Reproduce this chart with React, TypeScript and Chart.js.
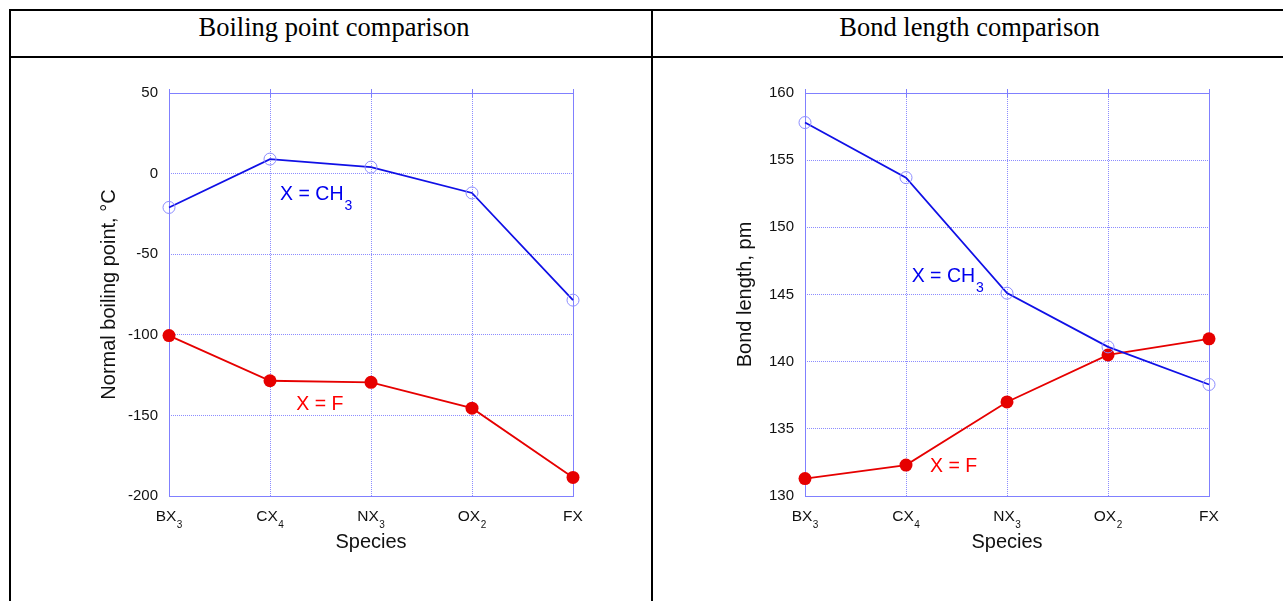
import React, { useEffect, useRef } from 'react';
import { Chart, registerables } from 'chart.js';

Chart.register(...registerables);

// ---------- data ----------
const speciesBase = ['BX', 'CX', 'NX', 'OX', 'FX'];
const speciesSub = ['3', '4', '3', '2', ''];

// Boiling points (°C)
const bpMethyl = [-21, 9, 4, -12, -78.5];
const bpFluoro = [-100.5, -128.5, -129.5, -145.5, -188.5];

// Bond lengths (pm)
const blMethyl = [157.8, 153.7, 145.1, 141.1, 138.3];
const blFluoro = [131.3, 132.3, 137.0, 140.5, 141.7];

// axis ranges
const bpRange = [-200, 50];
const bpStep = 50;
const blRange = [130, 160];
const blStep = 5;

// series labels
const methylLabel = ['X = CH', '3'];
const fluoroLabel = ['X = F', ''];

// label anchors (category index, value)
const bpMethylLabelAt = [1.1, -16.4];
const bpFluoroLabelAt = [1.26, -146.7];
const blMethylLabelAt = [1.056, 145.95];
const blFluoroLabelAt = [1.238, 131.8];

// ---------- styles ----------
const SANS = '"Liberation Sans", Arial, Helvetica, sans-serif';
const BLUE = '#1010e6';
const RED = '#e60000';
const BLUE_TEXT = '#0000ee';
const RED_TEXT = '#ff0000';
const FRAME = '#8080ff';
const GRID = '#8c8cff';

type Props = {
  left: number;
  top: number;
  methyl: number[];
  fluoro: number[];
  range: number[];
  step: number;
  yTitle: string;
  methylAt: number[];
  fluoroAt: number[];
};

const W = 555;
const H = 520;

function SpeciesChart(p: Props) {
  const ref = useRef<HTMLCanvasElement | null>(null);

  useEffect(() => {
    if (!ref.current) return;

    const decor = {
      id: 'decor',
      beforeDatasetsDraw(chart: any) {
        const { ctx, chartArea: ca, scales } = chart;
        ctx.save();
        ctx.strokeStyle = FRAME;
        ctx.lineWidth = 1;
        ctx.setLineDash([]);
        ctx.strokeRect(Math.round(ca.left) + 0.5, Math.round(ca.top) + 0.5,
          Math.round(ca.right - ca.left), Math.round(ca.bottom - ca.top));
        // small ticks at top edge
        speciesBase.forEach((_, i) => {
          const x = Math.round(scales.x.getPixelForValue(i)) + 0.5;
          ctx.beginPath();
          ctx.moveTo(x, ca.top - 4);
          ctx.lineTo(x, ca.top + 4);
          ctx.stroke();
        });
        ctx.restore();
      },
      afterDraw(chart: any) {
        const { ctx, chartArea: ca, scales } = chart;
        ctx.save();
        ctx.textBaseline = 'alphabetic';
        ctx.textAlign = 'left';
        // x tick labels with subscripts
        speciesBase.forEach((base, i) => {
          const sub = speciesSub[i];
          ctx.font = `15.5px ${SANS}`;
          const wb = ctx.measureText(base).width;
          ctx.font = `10px ${SANS}`;
          const ws = sub ? ctx.measureText(sub).width + 0.5 : 0;
          const cx = scales.x.getPixelForValue(i);
          const x0 = cx - (wb + ws) / 2;
          ctx.fillStyle = '#111';
          ctx.font = `15.5px ${SANS}`;
          ctx.fillText(base, x0, ca.bottom + 25);
          if (sub) {
            ctx.font = `10px ${SANS}`;
            ctx.fillText(sub, x0 + wb + 0.5, ca.bottom + 32);
          }
        });
        // series labels
        const drawLabel = (lab: string[], at: number[], color: string) => {
          const x = scales.x.getPixelForValue(at[0]);
          const y = scales.y.getPixelForValue(at[1]);
          ctx.fillStyle = color;
          ctx.font = `19.5px ${SANS}`;
          ctx.fillText(lab[0], x, y);
          if (lab[1]) {
            const w = ctx.measureText(lab[0]).width;
            ctx.font = `14px ${SANS}`;
            ctx.fillText(lab[1], x + w + 1, y + 10);
          }
        };
        drawLabel(methylLabel, p.methylAt, BLUE_TEXT);
        drawLabel(fluoroLabel, p.fluoroAt, RED_TEXT);
        ctx.restore();
      },
    };

    const chart = new Chart(ref.current, {
      type: 'line',
      data: {
        labels: speciesBase,
        datasets: [
          {
            data: p.methyl,
            borderColor: BLUE,
            borderWidth: 1.8,
            pointRadius: 6,
            pointBackgroundColor: 'rgba(255,255,255,0)',
            pointBorderColor: '#8c8cff',
            pointBorderWidth: 1,
            tension: 0,
            clip: false,
          } as any,
          {
            data: p.fluoro,
            borderColor: RED,
            borderWidth: 1.8,
            pointRadius: 6.5,
            pointBackgroundColor: RED,
            pointBorderColor: RED,
            pointBorderWidth: 0,
            tension: 0,
            clip: false,
          } as any,
        ],
      },
      options: {
        animation: false,
        responsive: false,
        maintainAspectRatio: false,
        layout: { padding: { top: 23, right: 75, bottom: 0, left: 0 } },
        plugins: {
          legend: { display: false },
          tooltip: { enabled: false },
        },
        scales: {
          x: {
            type: 'category',
            offset: false,
            grid: { color: GRID, lineWidth: 1, drawTicks: false },
            border: { display: false, dash: [1, 1] },
            ticks: { display: false },
            title: {
              display: true,
              text: 'Species',
              color: '#111',
              font: { family: SANS, size: 20 },
              padding: { top: 0, bottom: 36 },
            },
            afterFit: (s: any) => { s.height = 94; },
          },
          y: {
            type: 'linear',
            min: p.range[0],
            max: p.range[1],
            grid: { color: GRID, lineWidth: 1, drawTicks: false },
            border: { display: false, dash: [1, 1] },
            ticks: {
              stepSize: p.step,
              padding: 11,
              color: '#111',
              font: { family: SANS, size: 15 },
            },
            title: {
              display: true,
              text: p.yTitle,
              color: '#111',
              font: { family: SANS, size: 20 },
              padding: { top: 4, bottom: 0 },
            },
            afterFit: (s: any) => { s.width = 76; },
          },
        },
      } as any,
      plugins: [decor],
    });
    return () => chart.destroy();
  }, []);

  return (
    <canvas
      ref={ref}
      width={W}
      height={H}
      style={{ position: 'absolute', left: p.left, top: p.top, width: W, height: H }}
    />
  );
}

const line = (s: React.CSSProperties): React.CSSProperties => ({
  position: 'absolute',
  background: '#000',
  ...s,
});

const headStyle: React.CSSProperties = {
  position: 'absolute',
  top: 12,
  height: 30,
  lineHeight: '30px',
  textAlign: 'center',
  fontFamily: '"Liberation Serif", "Times New Roman", serif',
  fontSize: 26.5,
  color: '#000',
  whiteSpace: 'nowrap',
};

export default function App() {
  return (
    <div
      style={{
        position: 'fixed',
        left: 0,
        top: 0,
        width: 1283,
        height: 601,
        overflow: 'hidden',
        background: '#fff',
      }}
    >
      <div style={line({ left: 9, top: 9, width: 1300, height: 2 })} />
      <div style={line({ left: 9, top: 56, width: 1300, height: 2 })} />
      <div style={line({ left: 9, top: 9, width: 2, height: 620 })} />
      <div style={line({ left: 651, top: 9, width: 2, height: 620 })} />
      <div style={{ ...headStyle, left: 14, width: 640 }}>Boiling point comparison</div>
      <div style={{ ...headStyle, left: 653, width: 633 }}>Bond length comparison</div>
      <SpeciesChart
        left={93}
        top={70}
        methyl={bpMethyl}
        fluoro={bpFluoro}
        range={bpRange}
        step={bpStep}
        yTitle="Normal boiling point, °C"
        methylAt={bpMethylLabelAt}
        fluoroAt={bpFluoroLabelAt}
      />
      <SpeciesChart
        left={729}
        top={70}
        methyl={blMethyl}
        fluoro={blFluoro}
        range={blRange}
        step={blStep}
        yTitle="Bond length, pm"
        methylAt={blMethylLabelAt}
        fluoroAt={blFluoroLabelAt}
      />
    </div>
  );
}
